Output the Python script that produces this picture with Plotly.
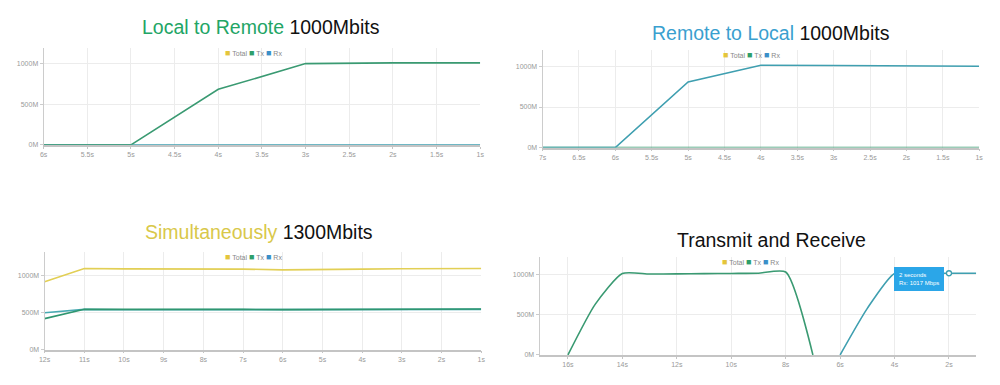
import plotly.graph_objects as go

# ---------------- data ----------------
p1_time = [6, 5, 4, 3, 2, 1]
p1_tx = [0, 0, 685, 1003, 1012, 1012]
p1_rx = [0, 0, 0, 0, 0, 0]
p1_ticks = [6, 5.5, 5, 4.5, 4, 3.5, 3, 2.5, 2, 1.5, 1]
p1_ticklabels = ["6s", "5.5s", "5s", "4.5s", "4s", "3.5s", "3s", "2.5s", "2s", "1.5s", "1s"]

p2_time = [7, 6, 5, 4, 3, 2, 1]
p2_rx = [0, 0, 810, 1016, 1012, 1006, 1004]
p2_tx = [0, 0, 0, 0, 0, 0, 0]
p2_ticks = [7, 6.5, 6, 5.5, 5, 4.5, 4, 3.5, 3, 2.5, 2, 1.5, 1]
p2_ticklabels = ["7s", "6.5s", "6s", "5.5s", "5s", "4.5s", "4s", "3.5s", "3s", "2.5s", "2s", "1.5s", "1s"]

p3_time = [12, 11, 10, 9, 8, 7, 6, 5, 4, 3, 2, 1]
p3_total = [920, 1100, 1095, 1097, 1100, 1092, 1082, 1092, 1092, 1097, 1097, 1100]
p3_tx = [420, 548, 545, 548, 550, 545, 542, 545, 545, 545, 548, 550]
p3_rx = [500, 545, 540, 540, 542, 538, 536, 538, 538, 540, 542, 545]
p3_ticks = [12, 11, 10, 9, 8, 7, 6, 5, 4, 3, 2, 1]
p3_ticklabels = ["12s", "11s", "10s", "9s", "8s", "7s", "6s", "5s", "4s", "3s", "2s", "1s"]

p4_time = [16, 15, 14, 13, 12, 11, 10, 9, 8, 7, 6, 5, 4, 3, 2, 1]
p4_tx = [0, 630, 1015, 1008, 1010, 1012, 1015, 1018, 1033, 0, None, None, None, None, None, None]
p4_rx = [None, None, None, None, None, None, None, None, None, None, 0, 580, 1015, 1017, 1017, 1017]
p4_ticks = [16, 14, 12, 10, 8, 6, 4, 2]
p4_ticklabels = ["16s", "14s", "12s", "10s", "8s", "6s", "4s", "2s"]
p4_tip_time = 2
p4_tip_value = 1017

y_ticks = [0, 500, 1000]
y_ticklabels = ["0M", "500M", "1000M"]

# ---------------- styles ----------------
FONT = "Liberation Sans, Arial, sans-serif"
C_TOTAL = "#e2cf55"
C_TX = "#3a9a72"
C_RX = "#3f9fb0"
LEG_TOTAL = "#e4c53c"
LEG_TX = "#2e9e6a"
LEG_RX = "#3a8fc8"

fig = go.Figure()

panels = [
    ("", [0.038, 0.479], [0.6208, 0.8753], [6, 1], [0, 1200], p1_ticks, p1_ticklabels),
    ("2", [0.542, 0.983], [0.6138, 0.8683], [7, 1], [0, 1200], p2_ticks, p2_ticklabels),
    ("3", [0.039, 0.480], [0.0849, 0.3395], [12, 1], [0, 1320], p3_ticks, p3_ticklabels),
    ("4", [0.539, 0.980], [0.0709, 0.3273], [17.04, 1.0], [0, 1220], p4_ticks, p4_ticklabels),
]

layout_axes = {}
for suf, xd, yd, xr, yr, tv, tt in panels:
    layout_axes["xaxis" + suf] = dict(
        domain=xd, range=xr, anchor="y" + suf, tickvals=tv, ticktext=tt,
        showgrid=True, gridcolor="#ececec", gridwidth=1,
        showline=True, linecolor="#c4c4c4", linewidth=1.5,
        ticks="outside", ticklen=2, tickcolor="#c4c4c4",
        tickfont=dict(size=7, color="#999999", family=FONT),
        zeroline=False, fixedrange=True, layer="below traces",
    )
    layout_axes["yaxis" + suf] = dict(
        domain=yd, range=yr, anchor="x" + suf, tickvals=y_ticks, ticktext=y_ticklabels,
        showgrid=True, gridcolor="#ececec", gridwidth=1,
        showline=True, linecolor="#cccccc", linewidth=1,
        ticks="outside", ticklen=3, tickcolor="#cccccc",
        tickfont=dict(size=7, color="#999999", family=FONT),
        zeroline=False, fixedrange=True,
    )

def line(x, y, color, xa, ya, shape="linear", name=""):
    fig.add_trace(go.Scatter(
        x=x, y=y, mode="lines", name=name, showlegend=False,
        line=dict(color=color, width=1.6, shape=shape, smoothing=0.6 if shape == "spline" else None),
        xaxis=xa, yaxis=ya, connectgaps=False, hoverinfo="skip",
    ))

line(p1_time, p1_rx, C_RX, "x", "y", name="Rx")
line(p1_time, p1_tx, C_TX, "x", "y", name="Tx")
line(p2_time, p2_tx, C_TX, "x2", "y2", name="Tx")
line(p2_time, p2_rx, C_RX, "x2", "y2", name="Rx")
line(p3_time, p3_total, C_TOTAL, "x3", "y3", name="Total")
line(p3_time, p3_rx, "#48aab2", "x3", "y3", name="Rx")
line(p3_time, p3_tx, "#2f9670", "x3", "y3", name="Tx")
line(p4_time, p4_tx, C_TX, "x4", "y4", shape="spline", name="Tx")
line(p4_time, p4_rx, C_RX, "x4", "y4", shape="spline", name="Rx")
fig.add_trace(go.Scatter(
    x=[p4_tip_time], y=[p4_tip_value], mode="markers", showlegend=False,
    marker=dict(size=5, color="white", line=dict(color=C_RX, width=1.3)),
    xaxis="x4", yaxis="y4", hoverinfo="skip",
))

annotations = []

titles = [
    ("<span style='color:#22a565'>Local to Remote</span> 1000Mbits", 0.2575, 1 - 27 / 385),
    ("<span style='color:#3a9fcf'>Remote to Local</span> 1000Mbits", 0.7725, 1 - 33 / 385),
    ("<span style='color:#d9c84a'>Simultaneously</span> 1300Mbits", 0.256, 1 - 234 / 385),
    ("Transmit and Receive", 0.773, 1 - 242 / 385),
]
for text, x, y in titles:
    annotations.append(dict(
        text=text, x=x, y=y, xref="paper", yref="paper", showarrow=False,
        xanchor="center", yanchor="middle",
        font=dict(size=19.5, color="#111111", family=FONT),
    ))

legend_text = (
    f"<span style='color:{LEG_TOTAL};font-size:9px'>■</span> Total "
    f"<span style='color:{LEG_TX};font-size:9px'>■</span> Tx "
    f"<span style='color:{LEG_RX};font-size:9px'>■</span> Rx"
)
for x, y in [(0.250, 1 - 53 / 385), (0.753, 1 - 55.7 / 385), (0.250, 1 - 259.3 / 385), (0.752, 1 - 264.3 / 385)]:
    annotations.append(dict(
        text=legend_text, x=x, y=y, xref="paper", yref="paper", showarrow=False,
        xanchor="center", yanchor="middle",
        font=dict(size=7, color="#888888", family=FONT),
    ))

annotations.append(dict(
    text=f"{p4_tip_time} seconds<br>Rx: {p4_tip_value} Mbps",
    x=p4_tip_time, y=p4_tip_value, xref="x4", yref="y4", showarrow=False,
    xanchor="right", yanchor="top", xshift=-5, yshift=6, align="left",
    bgcolor="#2ba6e8", bordercolor="#2ba6e8", borderpad=4,
    font=dict(size=6, color="white", family=FONT),
))

fig.update_layout(
    width=1000, height=385,
    margin=dict(l=0, r=0, t=0, b=0),
    paper_bgcolor="white", plot_bgcolor="white",
    showlegend=False,
    annotations=annotations,
    **layout_axes,
)

fig.write_html(
    "out.html",
    config={"displayModeBar": False},
    post_script="document.body.style.margin='0';document.body.style.overflow='hidden';",
)
